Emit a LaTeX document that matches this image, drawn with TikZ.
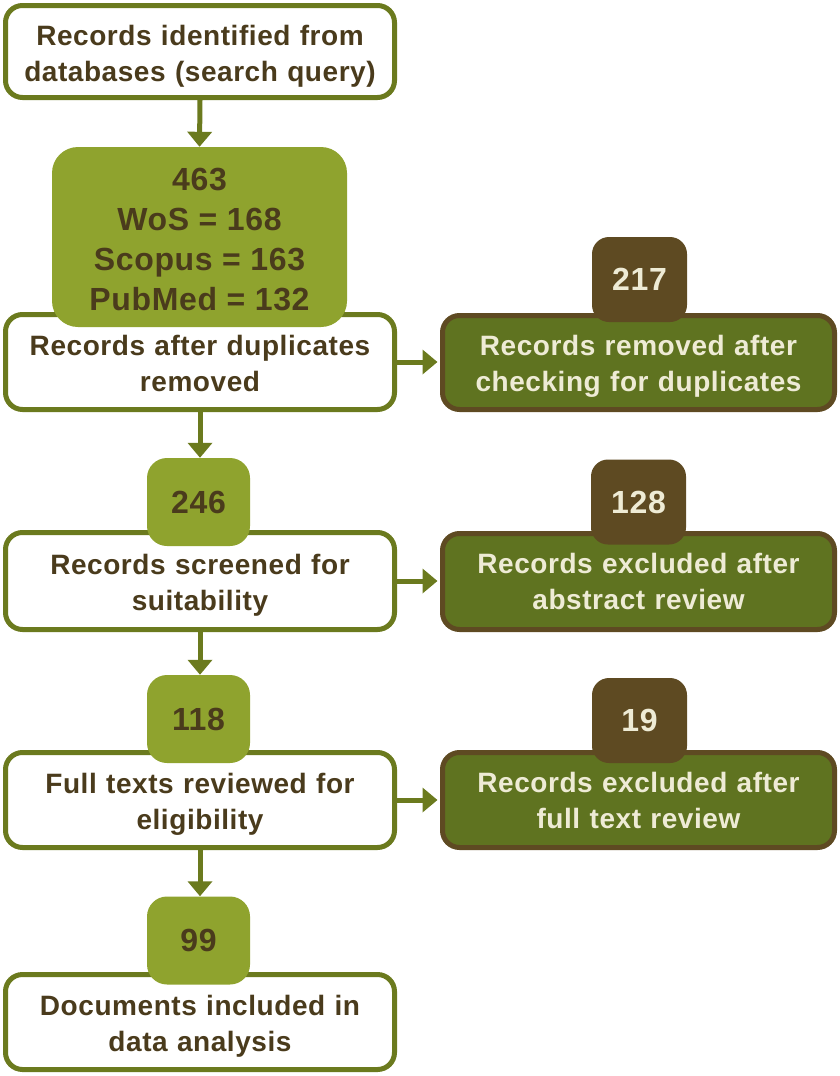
\documentclass[tikz,border=0pt]{standalone}
\usepackage{fontspec}
\newfontfamily\labfont[LetterSpace=2]{Liberation Sans}
\newfontfamily\numfont[LetterSpace=2]{Liberation Sans}
\usetikzlibrary{arrows.meta}
\definecolor{lineG}{HTML}{6B7A1E}
\definecolor{numG}{HTML}{8FA32E}
\definecolor{txtB}{HTML}{4A3B1C}
\definecolor{darkG}{HTML}{5F7320}
\definecolor{darkB}{HTML}{5E4A22}
\definecolor{cream}{HTML}{EEEBD5}
\newcommand{\tallfirst}[1]{\rule{0pt}{#1}}
\tikzset{
  whitebox/.style={draw=lineG, line width=5pt, fill=white, rounded corners=17pt,
    minimum width=389pt, text width=385pt, align=center, inner sep=0pt,
    text=txtB, font=\labfont\bfseries\fontsize{28}{36}\selectfont},
  numbox/.style={fill=numG, rounded corners=20pt, inner sep=0pt, align=center,
    text=txtB, font=\numfont\bfseries\fontsize{32}{40}\selectfont},
  darkbox/.style={draw=darkB, line width=5pt, fill=darkG, rounded corners=17pt,
    minimum width=392pt, text width=388pt, align=center, inner sep=0pt,
    text=cream, font=\labfont\bfseries\fontsize{28}{36}\selectfont},
  darknum/.style={fill=darkB, rounded corners=17pt, inner sep=0pt, align=center,
    minimum width=95pt, minimum height=85pt,
    text=cream, font=\numfont\bfseries\fontsize{32}{40}\selectfont},
  flow/.style={draw=lineG, line width=5pt, -{Triangle[length=15pt,width=24pt]}}
}
\begin{document}
\begin{tikzpicture}[x=1pt,y=-1pt]
\useasboundingbox (0,0) rectangle (839,1076);
% left column
\node[whitebox, minimum height=92pt] (b1) at (200,51.5) {\tallfirst{30.5pt}Records identified from\\databases (search query)};
\node[whitebox, minimum height=95pt] (b2) at (200,362) {\tallfirst{22.5pt}Records after duplicates\\removed};
\node[whitebox, minimum height=97pt] (b3) at (200,581) {\tallfirst{28.5pt}Records screened for\\suitability};
\node[whitebox, minimum height=95pt] (b4) at (200,800) {\tallfirst{28.5pt}Full texts reviewed for\\eligibility};
\node[whitebox, minimum height=95pt] (b5) at (200,1022) {\tallfirst{28.5pt}Documents included in\\data analysis};
\node[numbox, minimum width=295pt, minimum height=180pt, rounded corners=26pt] (n463) at (199.5,237) {\tallfirst{26.5pt}463\\WoS = 168\\Scopus = 163\\PubMed = 132};
\node[numbox, minimum width=103pt, minimum height=88pt] (n246) at (198.5,502) {246};
\node[numbox, minimum width=103pt, minimum height=88pt] (n118) at (198.5,719) {118};
\node[numbox, minimum width=103pt, minimum height=88pt] (n99) at (198.5,940.5) {99};
% right column
\node[darkbox, minimum height=94pt] (r1) at (638.5,362.5) {\tallfirst{28.5pt}Records removed after\\checking for duplicates};
\node[darkbox, minimum height=96pt] (r2) at (638.5,581.5) {Records excluded after\\abstract review};
\node[darkbox, minimum height=95pt] (r3) at (638.5,800) {Records excluded after\\full text review};
\node[darknum] (n217) at (639.5,279.5) {217};
\node[darknum] (n128) at (638.5,502) {128};
\node[darknum] (n19) at (639.5,720.5) {19};
% connectors
\draw[flow] (b1.south) -- (n463.north);
\draw[flow] (b2.south) -- (n246.north -| b2.south);
\draw[flow] (b3.south) -- (n118.north -| b3.south);
\draw[flow] (b4.south) -- (n99.north -| b4.south);
\draw[flow, shorten >=2.5pt] (b2.east) -- (b2.east -| r1.west);
\draw[flow, shorten >=2.5pt] (b3.east) -- (b3.east -| r2.west);
\draw[flow, shorten >=2.5pt] (b4.east) -- (b4.east -| r3.west);
\end{tikzpicture}
\end{document}
